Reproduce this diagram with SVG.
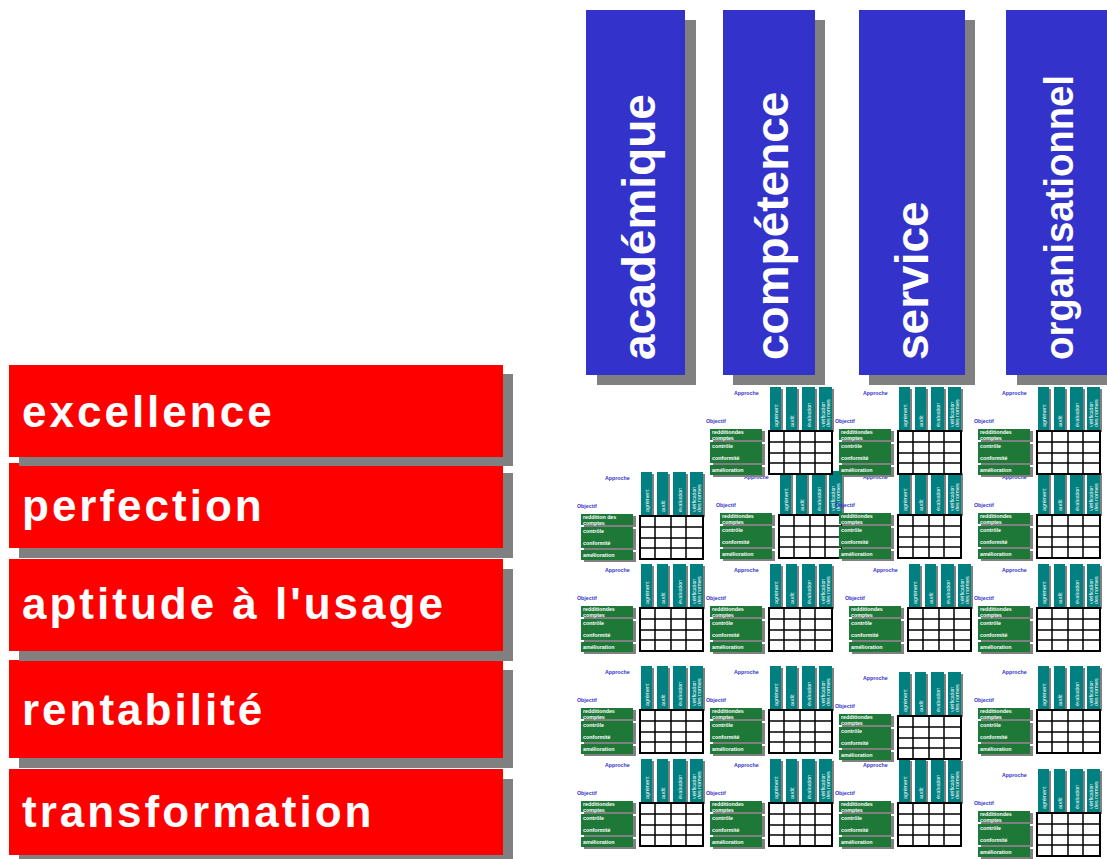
<svg xmlns="http://www.w3.org/2000/svg" width="1107" height="859" viewBox="0 0 1107 859">
<style>
.sh{fill:#808080}
.red{fill:#ff0000}
.blue{fill:#3333cc}
.rt{font-family:"Liberation Sans",Arial,sans-serif;font-weight:bold;font-size:44px;letter-spacing:3px;fill:#ffffff}
.bt{font-family:"Liberation Sans",Arial,sans-serif;font-weight:bold;font-size:46px;fill:#ffffff}
.lab{font-family:"Liberation Sans",Arial,sans-serif;font-weight:bold;font-size:5.3px;fill:#3333cc}
.teal{fill:#008080}
.grn{fill:#1e7838}
.tt{font-family:"Liberation Sans",Arial,sans-serif;font-size:5.3px;fill:#ffffff}
.gt{font-family:"Liberation Sans",Arial,sans-serif;font-weight:bold;font-size:5.3px;fill:#ffffff}
.cell{fill:#ffffff;stroke:#000000;stroke-width:2}
.gl{stroke:#000000;stroke-width:1.5;fill:none}
</style>
<defs>
<g id="tblBase">
<text class="lab" x="-35" y="-36">Approche</text>
<rect class="sh" x="3" y="-42" width="11" height="43"/>
<rect class="sh" x="19" y="-42" width="11" height="43"/>
<rect class="sh" x="35" y="-42" width="13" height="43"/>
<rect class="sh" x="52" y="-42" width="13" height="43"/>
<rect class="teal" x="1" y="-44" width="11" height="43"/>
<rect class="teal" x="17" y="-44" width="11" height="43"/>
<rect class="teal" x="33" y="-44" width="13" height="43"/>
<rect class="teal" x="50" y="-44" width="13" height="43"/>
<text class="tt" transform="translate(8.5,-4) rotate(-90)">agrément</text>
<text class="tt" transform="translate(24.5,-4) rotate(-90)">audit</text>
<text class="tt" transform="translate(41.5,-4) rotate(-90)">évaluation</text>
<text class="tt" transform="translate(55.5,-4) rotate(-90)">vérification</text>
<text class="tt" transform="translate(61,-4) rotate(-90)">des normes</text>
<text class="lab" x="-63" y="-8">Objectif</text>
<rect class="sh" x="-56" y="0" width="52" height="11"/>
<rect class="sh" x="-56" y="13" width="52" height="21"/>
<rect class="sh" x="-56" y="36" width="52" height="10"/>
<rect class="grn" x="-59" y="-2" width="52" height="11"/>
<rect class="grn" x="-59" y="11" width="52" height="21"/>
<rect class="grn" x="-59" y="34" width="52" height="10"/>
<text class="gt" x="-57" y="9">comptes</text>
<text class="gt" x="-57" y="17">contrôle</text>
<text class="gt" x="-57" y="29">conformité</text>
<text class="gt" x="-57" y="41">amélioration</text>
<rect class="cell" x="0" y="0" width="63" height="43"/>
<path class="gl" d="M15 0V43M31 0V43M46 0V43M0 11H63M0 22H63M0 32H63"/>
</g>
</defs>

<g id="bar-organisationnel">
<rect class="sh" x="1017" y="20" width="100" height="365"/>
<rect class="blue" x="1006" y="10" width="110" height="365"/>
<text class="bt" style="font-size:40px" transform="translate(1073,360) rotate(-90)" textLength="285" lengthAdjust="spacingAndGlyphs">organisationnel</text>
</g>
<g id="bar-service">
<rect class="sh" x="869" y="20" width="106" height="365"/>
<rect class="blue" x="859" y="10" width="106" height="365"/>
<text class="bt" transform="translate(928,360) rotate(-90)">service</text>
</g>
<g id="bar-competence">
<rect class="sh" x="733" y="20" width="92" height="365"/>
<rect class="blue" x="723" y="10" width="92" height="365"/>
<text class="bt" transform="translate(788,360) rotate(-90)">compétence</text>
</g>
<g id="bar-academique">
<rect class="sh" x="597" y="20" width="99" height="365"/>
<rect class="blue" x="586" y="10" width="99" height="365"/>
<text class="bt" transform="translate(655,360) rotate(-90)">académique</text>
</g>

<g id="box-transformation">
<rect class="sh" x="19" y="779" width="494" height="86"/>
<rect class="red" x="9" y="769" width="494" height="86"/>
<text class="rt" x="22" y="827">transformation</text>
</g>
<g id="box-rentabilite">
<rect class="sh" x="19" y="670" width="494" height="98"/>
<rect class="red" x="9" y="660" width="494" height="98"/>
<text class="rt" x="22" y="725">rentabilité</text>
</g>
<g id="box-aptitude">
<rect class="sh" x="19" y="569" width="494" height="92"/>
<rect class="red" x="9" y="559" width="494" height="92"/>
<text class="rt" x="22" y="619">aptitude à l'usage</text>
</g>
<g id="box-perfection">
<rect class="sh" x="19" y="473" width="494" height="85"/>
<rect class="red" x="9" y="463" width="494" height="85"/>
<text class="rt" x="22" y="521">perfection</text>
</g>
<g id="box-excellence">
<rect class="sh" x="19" y="374" width="494" height="92"/>
<rect class="red" x="9" y="365" width="494" height="92"/>
<text class="rt" x="22" y="427">excellence</text>
</g>

<g id="t-r5c1" transform="translate(640,803)"><use href="#tblBase"/><text class="gt" x="-57" y="3">redditiondes</text></g>
<g id="t-r5c2" transform="translate(769,803)"><use href="#tblBase"/><text class="gt" x="-57" y="3">redditiondes</text></g>
<g id="t-r5c3" transform="translate(898,803)"><use href="#tblBase"/><text class="gt" x="-57" y="3">redditiondes</text></g>
<g id="t-r5c4" transform="translate(1037,813)"><use href="#tblBase"/><text class="gt" x="-57" y="3">redditiondes</text></g>

<g id="t-r4c1" transform="translate(640,710)"><use href="#tblBase"/><text class="gt" x="-57" y="3">redditiondes</text></g>
<g id="t-r4c2" transform="translate(769,710)"><use href="#tblBase"/><text class="gt" x="-57" y="3">redditiondes</text></g>
<g id="t-r4c3" transform="translate(898,716)"><use href="#tblBase"/><text class="gt" x="-57" y="3">redditiondes</text></g>
<g id="t-r4c4" transform="translate(1037,710)"><use href="#tblBase"/><text class="gt" x="-57" y="3">redditiondes</text></g>

<g id="t-r3c1" transform="translate(640,608)"><use href="#tblBase"/><text class="gt" x="-57" y="3">redditiondes</text></g>
<g id="t-r3c2" transform="translate(769,608)"><use href="#tblBase"/><text class="gt" x="-57" y="3">redditiondes</text></g>
<g id="t-r3c3" transform="translate(908,608)"><use href="#tblBase"/><text class="gt" x="-57" y="3">redditiondes</text></g>
<g id="t-r3c4" transform="translate(1037,608)"><use href="#tblBase"/><text class="gt" x="-57" y="3">redditiondes</text></g>

<g id="t-r2c1" transform="translate(640,516)"><use href="#tblBase"/><text class="gt" x="-57" y="3">reddition des</text></g>
<g id="t-r2c2" transform="translate(779,515)"><use href="#tblBase"/><text class="gt" x="-57" y="3">redditiondes</text></g>
<g id="t-r2c3" transform="translate(898,515)"><use href="#tblBase"/><text class="gt" x="-57" y="3">redditiondes</text></g>
<g id="t-r2c4" transform="translate(1037,515)"><use href="#tblBase"/><text class="gt" x="-57" y="3">redditiondes</text></g>

<g id="t-r1c2" transform="translate(769,431)"><use href="#tblBase"/><text class="gt" x="-57" y="3">redditiondes</text></g>
<g id="t-r1c3" transform="translate(898,431)"><use href="#tblBase"/><text class="gt" x="-57" y="3">redditiondes</text></g>
<g id="t-r1c4" transform="translate(1037,431)"><use href="#tblBase"/><text class="gt" x="-57" y="3">redditiondes</text></g>
</svg>
